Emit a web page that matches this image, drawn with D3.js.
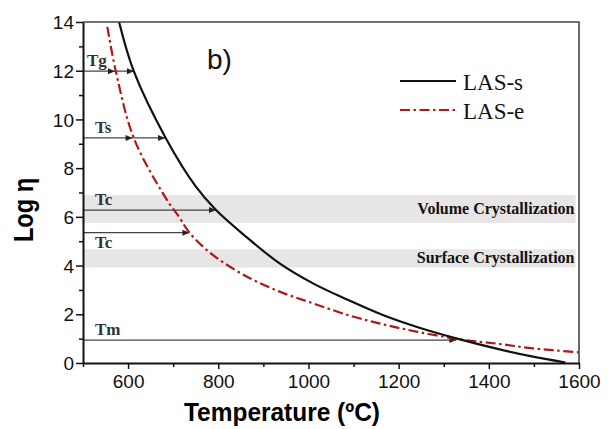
<!DOCTYPE html>
<html>
<head>
<meta charset="utf-8">
<script src="https://cdn.jsdelivr.net/npm/d3@7"></script>
<style>
  body { margin: 0; background: #fff; }
  svg { display: block; }
</style>
</head>
<body>
<svg id="chart" width="609" height="429"></svg>
<script>
// LAS-s (solid) viscosity curve
var lasSTemp = [580, 613, 684, 750, 795, 862, 936, 1010, 1084, 1165, 1239, 1336, 1424, 1498, 1570];
var lasSLog = [14.0, 11.96, 9.22, 7.25, 6.28, 5.18, 4.09, 3.27, 2.62, 1.97, 1.49, 0.97, 0.56, 0.26, 0.02];

// LAS-e (dash-dot) viscosity curve
var lasETemp = [554, 573, 613, 684, 713, 736, 787, 862, 936, 1010, 1091, 1165, 1239, 1336, 1424, 1498, 1600];
var lasELog = [13.8, 11.96, 9.22, 6.76, 6.0, 5.35, 4.45, 3.56, 2.93, 2.45, 1.95, 1.59, 1.29, 0.97, 0.78, 0.60, 0.44];

// characteristic temperatures: label, log level, arrow tips (temperature)
var markLabels = ['Tg', 'Ts', 'Tc', 'Tc', 'Tm'];
var markLevels = [11.98, 9.24, 6.28, 5.35, 0.94];
var markTips = [[571, 613], [610, 682], [795], [736], [1328]];
var markLabelBelow = [false, false, false, true, false];

// crystallization bands
var bandNames = ['Volume Crystallization', 'Surface Crystallization'];
var bandLow = [5.75, 3.92];
var bandHigh = [6.9, 4.67];

var xTickValues = [600, 800, 1000, 1200, 1400, 1600];
var yTickValues = [0, 2, 4, 6, 8, 10, 12, 14];

var svg = d3.select('#chart');

var x0 = 83, x1 = 579, y0 = 363, y1 = 22;

var x = d3.scaleLinear().domain([500, 1600]).range([x0, x1]);
var y = d3.scaleLinear().domain([0, 14]).range([y0, y1]);

svg.append('defs').append('clipPath')
    .attr('id', 'plotclip')
  .append('rect')
    .attr('x', x0).attr('y', y1)
    .attr('width', x1 - x0).attr('height', y0 - y1);

// bands
var bands = svg.append('g');
bandNames.forEach(function(name, i) {
    bands.append('rect')
        .attr('x', x0 + 1)
        .attr('y', y(bandHigh[i]))
        .attr('width', x(1590) - x0)
        .attr('height', y(bandLow[i]) - y(bandHigh[i]))
        .attr('fill', '#e7e5e6');
    bands.append('text')
        .attr('x', x(1590))
        .attr('y', y((bandLow[i] + bandHigh[i]) / 2) + 5)
        .attr('text-anchor', 'end')
        .attr('font-family', 'Liberation Serif, serif')
        .attr('font-weight', 'bold')
        .attr('font-size', 16)
        .attr('fill', '#111')
        .text(name);
});

// arrows to the curves
var marks = svg.append('g');
markLabels.forEach(function(lab, i) {
    var yy = y(markLevels[i]);
    var tips = markTips[i];
    var xEnd = x(d3.max(tips));
    marks.append('line')
        .attr('x1', x0).attr('x2', xEnd)
        .attr('y1', yy).attr('y2', yy)
        .attr('stroke', '#444')
        .attr('stroke-width', 1.3);
    tips.forEach(function(t) {
        var tx = x(t);
        marks.append('path')
            .attr('d', 'M' + (tx - 7) + ',' + (yy - 3) + 'L' + tx + ',' + yy + 'L' + (tx - 7) + ',' + (yy + 3) + 'Z')
            .attr('fill', '#222');
    });
    marks.append('text')
        .attr('x', lab === 'Tg' ? x0 + 4 : x0 + 12)
        .attr('y', markLabelBelow[i] ? yy + 15 : yy - 5)
        .attr('font-family', 'Liberation Serif, serif')
        .attr('font-weight', 'bold')
        .attr('font-size', 17)
        .attr('fill', '#333')
        .text(lab);
});

// curves
var line = d3.line()
    .x(function(d) { return x(d[0]); })
    .y(function(d) { return y(d[1]); })
    .curve(d3.curveCatmullRom.alpha(0.5));

var curves = svg.append('g').attr('clip-path', 'url(#plotclip)');

curves.append('path')
    .datum(d3.zip(lasETemp, lasELog))
    .attr('d', line)
    .attr('fill', 'none')
    .attr('stroke', '#b01818')
    .attr('stroke-width', 2.2)
    .attr('stroke-dasharray', '10,3.5,2.5,3.5');

curves.append('path')
    .datum(d3.zip(lasSTemp, lasSLog))
    .attr('d', line)
    .attr('fill', 'none')
    .attr('stroke', '#111')
    .attr('stroke-width', 2.2);

// frame top and right
svg.append('path')
    .attr('d', 'M' + x0 + ',' + y1 + 'H' + x1 + 'V' + y0)
    .attr('fill', 'none')
    .attr('stroke', '#444')
    .attr('stroke-width', 1.6);

// axes
var yAxis = svg.append('g')
    .attr('transform', 'translate(' + x0 + ',0)')
    .call(d3.axisLeft(y).tickValues(d3.range(0, 15, 1)).tickSize(0).tickFormat(''));
yAxis.select('.domain').attr('stroke', '#111').attr('stroke-width', 2);
yAxis.selectAll('.tick line')
    .attr('x2', function(d) { return d % 2 === 0 ? -7 : -4; })
    .attr('stroke', '#111').attr('stroke-width', 1.5);
yAxis.selectAll('.tick')
    .filter(function(d) { return yTickValues.indexOf(d) >= 0; })
    .append('text')
    .attr('x', -9)
    .attr('dy', '0.35em')
    .attr('text-anchor', 'end')
    .attr('fill', '#111')
    .attr('font-family', 'Liberation Sans, Arial, sans-serif')
    .attr('font-size', 19)
    .text(function(d) { return d; });

var xAxis = svg.append('g')
    .attr('transform', 'translate(0,' + y0 + ')')
    .call(d3.axisBottom(x).tickValues(d3.range(500, 1601, 100)).tickSize(0).tickFormat(''));
xAxis.select('.domain').attr('stroke', '#111').attr('stroke-width', 2);
xAxis.selectAll('.tick line')
    .attr('y2', function(d) { return d % 200 === 0 ? 6 : 4; })
    .attr('stroke', '#111').attr('stroke-width', 1.5);
xAxis.selectAll('.tick')
    .filter(function(d) { return xTickValues.indexOf(d) >= 0; })
    .append('text')
    .attr('y', 25)
    .attr('text-anchor', 'middle')
    .attr('fill', '#111')
    .attr('font-family', 'Liberation Sans, Arial, sans-serif')
    .attr('font-size', 19)
    .text(function(d) { return d; });

// axis titles
svg.append('text')
    .attr('x', 282)
    .attr('y', 421)
    .attr('text-anchor', 'middle')
    .attr('font-family', 'Liberation Sans, Arial, sans-serif')
    .attr('font-weight', 'bold')
    .attr('font-size', 26)
    .attr('textLength', 196)
    .attr('lengthAdjust', 'spacingAndGlyphs')
    .text('Temperature (ºC)');

svg.append('text')
    .attr('transform', 'translate(33,210) rotate(-90)')
    .attr('text-anchor', 'middle')
    .attr('font-family', 'Liberation Sans, Arial, sans-serif')
    .attr('font-weight', 'bold')
    .attr('font-size', 27)
    .attr('textLength', 64)
    .attr('lengthAdjust', 'spacingAndGlyphs')
    .text('Log η');

// panel label
svg.append('text')
    .attr('x', 207)
    .attr('y', 69)
    .attr('font-family', 'Liberation Sans, Arial, sans-serif')
    .attr('font-size', 28)
    .attr('fill', '#111')
    .text('b)');

// legend
var legNames = ['LAS-s', 'LAS-e'];
var legend = svg.append('g');
legNames.forEach(function(name, i) {
    var ly = 81 + i * 29;
    legend.append('line')
        .attr('x1', 400).attr('x2', 456)
        .attr('y1', ly).attr('y2', ly)
        .attr('stroke', i === 0 ? '#111' : '#b01818')
        .attr('stroke-width', 2.2)
        .attr('stroke-dasharray', i === 0 ? null : '10,3.5,2.5,3.5');
    legend.append('text')
        .attr('x', 463)
        .attr('y', ly + 9)
        .attr('font-family', 'Liberation Serif, serif')
        .attr('font-size', 23)
        .attr('fill', '#111')
        .text(name);
});
</script>
</body>
</html>
